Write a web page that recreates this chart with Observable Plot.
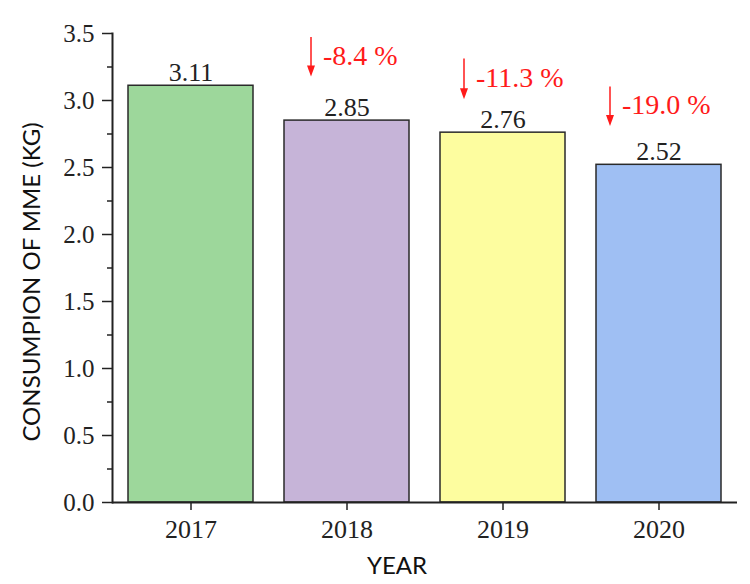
<!DOCTYPE html>
<html>
<head>
<meta charset="utf-8">
<script src="https://cdn.jsdelivr.net/npm/d3@7"></script>
<script src="https://cdn.jsdelivr.net/npm/@observablehq/plot@0.6"></script>
<style>
  html, body { margin: 0; padding: 0; background: #fff; }
  #chart { width: 750px; height: 584px; }
</style>
</head>
<body>
<div id="chart"></div>
<script>
// ---- data ----
const years = ["2017", "2018", "2019", "2020"];
const values = [3.11, 2.85, 2.76, 2.52];
const changeYears = ["2018", "2019", "2020"];
const changeLabels = ["-8.4 %", "-11.3 %", "-19.0 %"];
const yMajorTicks = [0, 0.5, 1.0, 1.5, 2.0, 2.5, 3.0, 3.5];
const yMinorTicks = [0.25, 0.75, 1.25, 1.75, 2.25, 2.75, 3.25];
const yLabel = "CONSUMPION OF MME (KG)";
const xLabel = "YEAR";

// ---- tables built from the arrays ----
const bars = years.map((year, i) => ({year, value: values[i]}));
const changes = changeYears.map((year, i) => ({year, value: values[years.indexOf(year)], label: changeLabels[i]}));

// ---- styling / layout ----
const palette = ["#9dd79b", "#c6b4d8", "#fdfd9f", "#9fbff3"];
const serif = "'Liberation Serif', 'Times New Roman', serif";
const sans = "Lato, 'Open Sans', sans-serif";
const arrowDx = [-36, -39, -49];       // px offset of each arrow from its bar centre
const arrowTop = [0.62, 0.55, 0.58];   // arrow start above the bar (data units)
const arrowTip = [0.33, 0.25, 0.29];   // arrow tip above the bar (data units)

const headDown = {
  draw(ctx) {
    ctx.moveTo(-4, -11);
    ctx.lineTo(4, -11);
    ctx.lineTo(0, 0);
    ctx.closePath();
  }
};

const annotationMarks = changes.flatMap((c, i) => {
  const d = [c];
  return [
    Plot.ruleX(d, {x: "year", y1: r => r.value + arrowTop[i], y2: r => r.value + arrowTip[i] + 0.06,
      stroke: "#ff1a1a", strokeWidth: 1.5, dx: arrowDx[i]}),
    Plot.dot(d, {x: "year", y: r => r.value + arrowTip[i], symbol: headDown, r: 5,
      fill: "#ff1a1a", stroke: null, dx: arrowDx[i]}),
    Plot.text(d, {x: "year", y: r => r.value + (arrowTop[i] + arrowTip[i]) / 2 + 0.01, text: "label",
      textAnchor: "start", dx: arrowDx[i] + 12, fill: "#ff1a1a", fontSize: 28, fontFamily: serif})
  ];
});

const chart = Plot.plot({
  width: 750,
  height: 584,
  marginTop: 33,
  marginBottom: 82,
  marginLeft: 112,
  marginRight: 13,
  style: {fontFamily: serif, color: "#222", background: "#fff"},
  x: {domain: years, paddingInner: 0.2, paddingOuter: 0.1, label: null},
  y: {domain: [0, 3.5], label: null},
  color: {domain: years, range: palette},
  marks: [
    Plot.barY(bars, {x: "year", y: "value", fill: "year", stroke: "#2a2a2a", strokeWidth: 1.5}),
    Plot.text(bars, {x: "year", y: "value", text: d => d.value.toFixed(2), dy: -5, lineAnchor: "bottom",
      fontSize: 26, fontFamily: serif, fill: "#222"}),
    ...annotationMarks,
    Plot.axisY({ticks: yMinorTicks, tickSize: 5, tickFormat: () => "", label: null, strokeWidth: 1.5, stroke: "#222"}),
    Plot.axisY({ticks: yMajorTicks, tickSize: 10, tickPadding: 8, tickFormat: d3.format(".1f"),
      label: null, fontSize: 25, strokeWidth: 1.5, stroke: "#222"}),
    Plot.axisX({tickSize: 8, tickPadding: 9, label: null, fontSize: 26, strokeWidth: 1.5, stroke: "#222"}),
    Plot.ruleY([0], {stroke: "#222", strokeWidth: 2}),
    Plot.frame({anchor: "left", stroke: "#222", strokeWidth: 2}),
    Plot.text([xLabel], {frameAnchor: "bottom", dy: 71, dx: -28, fontSize: 24, fontFamily: sans, fill: "#111"}),
    Plot.text([yLabel], {frameAnchor: "left", textAnchor: "middle", rotate: -90, dx: -80, dy: 14,
      fontSize: 24, fontFamily: sans, fill: "#111"})
  ]
});

document.getElementById("chart").appendChild(chart);
</script>
</body>
</html>
